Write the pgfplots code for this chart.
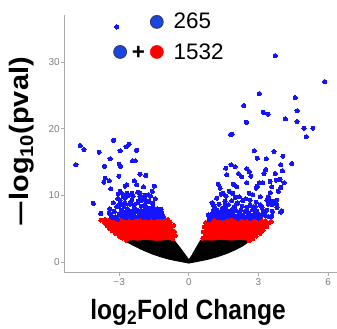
\documentclass[border=0pt]{standalone}
\usepackage{fontspec}
\setmainfont{Liberation Sans}
\usepackage{graphicx}
\usepackage{pgfplots}
\pgfplotsset{compat=1.18}
\definecolor{axisgray}{RGB}{170,170,170}
\definecolor{tickgray}{RGB}{125,125,125}
\definecolor{ptblue}{RGB}{20,20,255}
\definecolor{ptred}{RGB}{255,0,0}
\definecolor{legblue}{RGB}{25,70,225}
\definecolor{legedge}{RGB}{55,60,95}
\begin{document}
\begin{tikzpicture}
\useasboundingbox (-64.3bp,-56.3bp) rectangle (272.7bp,272.7bp);
\begin{axis}[
  at={(0,0)}, anchor=south west,
  scale only axis, width=272.7bp, height=257.7bp,
  xmin=-5.36, xmax=6.38, ymin=-1.6, ymax=37.1,
  axis x line*=bottom, axis y line*=left,
  axis line style={draw=axisgray, line width=0.9bp, -},
  xtick={-3,0,3,6}, xticklabels={−3,0,3,6},
  ytick={0,10,20,30}, yticklabels={0,10,20,30},
  tick style={draw=axisgray, line width=0.9bp},
  tick align=outside, major tick length=3.5bp,
  tick label style={font=\fontsize{10}{12}\selectfont, text=tickgray},
  yticklabel style={inner sep=1bp},
  xticklabel style={inner sep=2bp},
  xlabel={\scalebox{0.88}[1]{\fontsize{28}{31}\selectfont\bfseries log\textsubscript{2}Fold Change}},
  xlabel style={at={(axis description cs:0.4536,-0.152)}, anchor=center},
  ylabel={\scalebox{1}[0.92]{\fontsize{29}{32}\selectfont\bfseries \scalebox{1.6}[1]{–}log\textsubscript{10}(pval)}},
  ylabel style={at={(axis description cs:-0.1577,0.508)}, anchor=center},
  legend style={at={(axis cs:-3.254,37.35)}, anchor=north west, draw=none, fill=none,
    inner sep=0pt, outer sep=0pt, font=\fontsize{22.5}{24}\selectfont,
    row sep=12.9bp, nodes={inner sep=0pt},
    /tikz/every odd column/.append style={column sep=10bp}},
  legend cell align=left,
]
% legend
\addlegendimage{legend image code/.code={\fill[legblue, draw=legedge, line width=1bp] (0bp,0bp) circle[radius=6.4bp];}}
\addlegendentry{265}
\addlegendimage{legend image code/.code={\fill[legblue, draw=legedge, line width=1bp] (-36.7bp,0bp) circle[radius=6.4bp];
  \node[font=\fontsize{22.5}{24}\selectfont\bfseries, inner sep=0pt, anchor=base] at (-18.5bp,-7.9bp) {+};
  \fill[ptred] (0bp,0bp) circle[radius=6.6bp];}}
\addlegendentry{1532}

% red regions
\addplot[fill=ptred, draw=none, forget plot] coordinates {
(-3.75,6.45) (-3.4,6.6) (-3.0,6.7) (-2.6,6.6) (-2.2,6.75) (-1.8,6.6) (-1.4,6.7) (-1.0,6.6)
(-0.8,6.2) (-0.7,5.5) (-0.62,4.6) (-0.62,3.6) (-0.65,3.0) (-2.65,3.0) (-2.9,3.5) (-3.15,4.2)
(-3.4,4.9) (-3.6,5.6) (-3.8,6.1)} -- cycle;
\addplot[fill=ptred, draw=none, forget plot] coordinates {
(0.8,6.6) (1.2,6.7) (1.6,6.6) (2.0,6.75) (2.4,6.6) (2.8,6.7) (3.2,6.4) (3.45,5.9) (3.35,5.3)
(3.1,4.5) (2.85,3.8) (2.55,3.0) (0.55,3.0) (0.6,3.8) (0.64,4.6) (0.7,5.4) (0.75,6.1)} -- cycle;
\addplot[only marks, color=ptred, mark=*, mark size=2pt, mark options={fill=ptred, draw=ptred, line width=0pt}, forget plot] coordinates {
(-3.79,6.3) (-3.65,6.0) (-3.53,5.5) (-3.40,5.0) (-3.3,4.7) (-3.15,4.3) (-3.0,3.9) (-2.85,3.6)
(-2.7,3.3) (-3.6,6.4) (-3.45,6.2) (-3.2,5.6) (-0.62,4.6) (-0.65,5.5) (-0.7,3.5) (-0.58,4.0)
(-0.8,6.0) (-0.9,6.4) (-2.5,6.8) (-1.7,6.8) (-1.2,6.75)
(0.62,4.5) (0.66,5.3) (0.72,5.9) (0.6,3.6) (3.47,5.9) (3.35,5.3) (3.2,4.8) (3.07,4.3)
(2.9,3.9) (2.75,3.5) (3.3,6.2) (3.55,6.1) (3.1,6.4) (2.6,3.2) (1.4,6.8) (2.2,6.8)
};
% black region
\addplot[fill=black, draw=black, line width=1bp, forget plot] coordinates {
(-2.7,3.1) (-2.3,2.35) (-2.0,1.85) (-1.6,1.25) (-1.2,0.78) (-0.8,0.4) (-0.4,0.12) (0,-0.15)
(0.4,0.12) (0.8,0.4) (1.2,0.78) (1.6,1.25) (2.0,1.85) (2.3,2.4) (2.6,3.1)
(2.2,3.25) (1.8,3.15) (1.4,3.25) (1.0,3.15) (0.5,3.2)
(0.3,2.0) (0.12,0.9) (0,0.3) (-0.12,0.9) (-0.35,2.0) (-0.62,3.2)
(-1.0,3.2) (-1.4,3.1) (-1.8,3.25) (-2.2,3.15) (-2.5,3.2)} -- cycle;
% blue points
\addplot[only marks, color=ptblue, mark=*, mark size=2.1pt, mark options={fill=ptblue, draw=ptblue, line width=0pt}, forget plot] coordinates {
(-3.10,35.3)
(3.73,31.0) (5.85,27.1) (3.04,25.3) (4.58,24.7) (2.37,23.5) (4.66,22.7) (3.21,22.5) (3.41,22.2)
(2.48,21.0) (4.16,21.5) (4.66,21.1) (4.96,20.1) (5.34,20.1) (5.06,18.8) (1.80,19.15) (1.86,19.2)
(-4.67,17.5) (-4.51,16.9) (-4.86,14.6) (-3.86,16.5) (-3.24,18.3) (-2.96,16.7) (-2.70,17.3)
(-2.57,17.7) (-3.39,15.5) (-3.63,14.4) (-3.00,14.7) (-2.94,14.4) (-3.60,12.6) (-3.66,12.0)
(-3.42,12.2) (-3.01,12.9) (-3.36,11.0) (-2.74,11.4)
(-2.42,15.2) (-2.30,15.2) (-2.25,16.8)
(-2.10,13.2) (-1.85,13.0) (-2.35,12.2) (-2.24,11.6) (-1.95,11.3) (-1.48,11.4) (-1.57,10.6)
(-2.67,11.6) (-2.45,10.3) (-2.10,10.3) (-1.74,10.1) (-1.88,9.4) (-1.71,9.1) (-2.17,9.1)
(-2.53,8.8) (-1.52,8.1) (-1.16,7.4) (-1.33,6.9) (-1.59,7.3)
(-4.11,8.8) (-3.04,10.2) (-2.81,9.8) (-2.96,9.3) (-2.67,10.3) (-3.79,7.3) (-3.42,7.4)
(-3.27,6.7) (-3.07,6.4)
(-3.35,7.0) (-3.2,7.6) (-3.1,8.3) (-3.0,7.2) (-2.95,8.9) (-2.9,7.8) (-2.85,6.8) (-2.8,8.4)
(-2.75,9.6) (-2.7,7.4) (-2.65,8.0) (-2.6,6.9) (-2.55,8.7) (-2.5,7.6) (-2.45,9.3) (-2.4,7.1)
(-2.35,8.2) (-2.3,6.8) (-2.25,7.8) (-2.2,8.9) (-2.15,7.3) (-2.1,9.8) (-2.05,8.4) (-2.0,7.0)
(-1.95,7.7) (-1.9,8.6) (-1.85,6.8) (-1.8,9.2) (-1.75,7.5) (-1.7,8.1) (-1.65,6.9) (-1.6,7.8)
(-1.55,8.8) (-1.5,7.2) (-1.45,9.5) (-1.4,6.9) (-1.35,8.0) (-1.3,7.5) (-1.25,6.8) (-1.2,7.9)
(-1.15,7.1) (-1.1,6.8) (-3.05,9.5) (-2.6,10.0) (-2.2,10.5) (-1.9,10.0) (-2.4,9.9) (-1.65,9.9)
(-3.25,8.9) (-2.95,10.6) (-2.8,10.1) (-3.15,6.8) (-2.45,6.7) (-1.95,6.7) (-1.5,6.7) (-2.7,6.7)
(-2.15,6.9) (-1.75,6.7) (-2.85,7.5) (-2.3,7.5) (-1.9,7.3) (-2.55,7.2) (-2.05,7.6) (-1.6,7.3)
(-1.4,7.6) (-2.75,8.8) (-2.35,8.6) (-1.85,8.2) (-2.0,9.3) (-1.55,8.3) (-3.4,8.0) (-3.0,8.5)
(2.82,16.7) (1.59,14.1) (1.82,14.6) (1.99,14.3) (2.50,14.0)
(1.64,13.1) (2.14,13.3) (2.28,12.8) (2.60,13.6) (2.67,12.9) (1.27,11.7) (1.35,11.1) (1.92,11.7)
(2.07,11.3) (2.50,11.9) (1.49,10.3) (1.89,10.3) (2.18,9.8) (2.32,9.2) (2.61,10.3) (2.75,10.1)
(1.56,9.1) (2.07,8.8) (3.07,9.8) (2.85,8.3) (1.06,8.6) (1.42,7.8) (1.06,7.3) (1.85,7.6)
(2.21,7.3) (2.50,7.7) (2.93,7.4) (0.84,7.1)
(3.67,16.6) (4.05,15.9) (2.95,15.6) (3.33,15.5) (4.43,14.8) (3.96,14.6) (3.31,13.9) (3.24,13.3)
(3.72,13.3) (4.03,13.7) (3.76,12.3) (3.93,12.4) (3.50,12.1) (4.10,11.9) (3.19,11.9) (3.04,11.9)
(2.95,11.4) (2.90,11.1) (3.57,11.3) (3.96,11.2) (3.86,10.6) (3.50,10.4) (3.43,9.8) (3.36,9.3)
(3.53,9.2) (3.67,9.1) (3.79,9.3) (3.43,8.7) (3.57,8.6) (3.76,8.8) (3.07,8.6) (2.78,8.3)
(4.0,7.7) (2.93,7.6) (3.57,6.9) (2.64,9.3)
(0.88,6.4) (0.95,7.1) (1.0,6.8) (1.05,7.6) (1.1,8.3) (1.15,7.0) (1.2,7.8) (1.25,6.7) (1.3,8.7)
(1.35,7.3) (1.4,6.9) (1.45,8.1) (1.5,7.5) (1.55,6.8) (1.6,7.9) (1.65,7.2) (1.7,8.6) (1.75,6.9)
(1.8,7.6) (1.85,9.2) (1.9,7.0) (1.95,8.3) (2.0,6.8) (2.05,7.7) (2.1,8.9) (2.15,7.1) (2.2,6.8)
(2.25,7.8) (2.3,8.4) (2.35,7.0) (2.4,6.7) (2.45,7.6) (2.5,8.2) (2.55,6.9) (2.6,7.3) (2.7,6.8)
(2.75,7.9) (2.8,7.1) (2.9,6.8) (3.0,7.2) (3.1,6.9) (3.2,7.5) (3.3,7.0) (3.45,6.8) (1.2,9.6)
(1.6,9.9) (1.0,8.9) (2.0,9.7) (1.4,10.2) (1.75,10.6) (2.45,9.5) (2.9,9.0) (3.15,8.2) (3.6,7.6)
(3.8,8.2) (3.95,7.5) (1.3,7.5) (1.55,8.4) (1.9,8.0) (2.2,7.4) (1.1,7.3) (1.7,7.4) (2.65,8.5)
(3.35,7.8) (2.1,6.6) (1.45,6.6) (2.65,6.6) (3.0,6.6)
};
\end{axis}
\end{tikzpicture}
\end{document}
